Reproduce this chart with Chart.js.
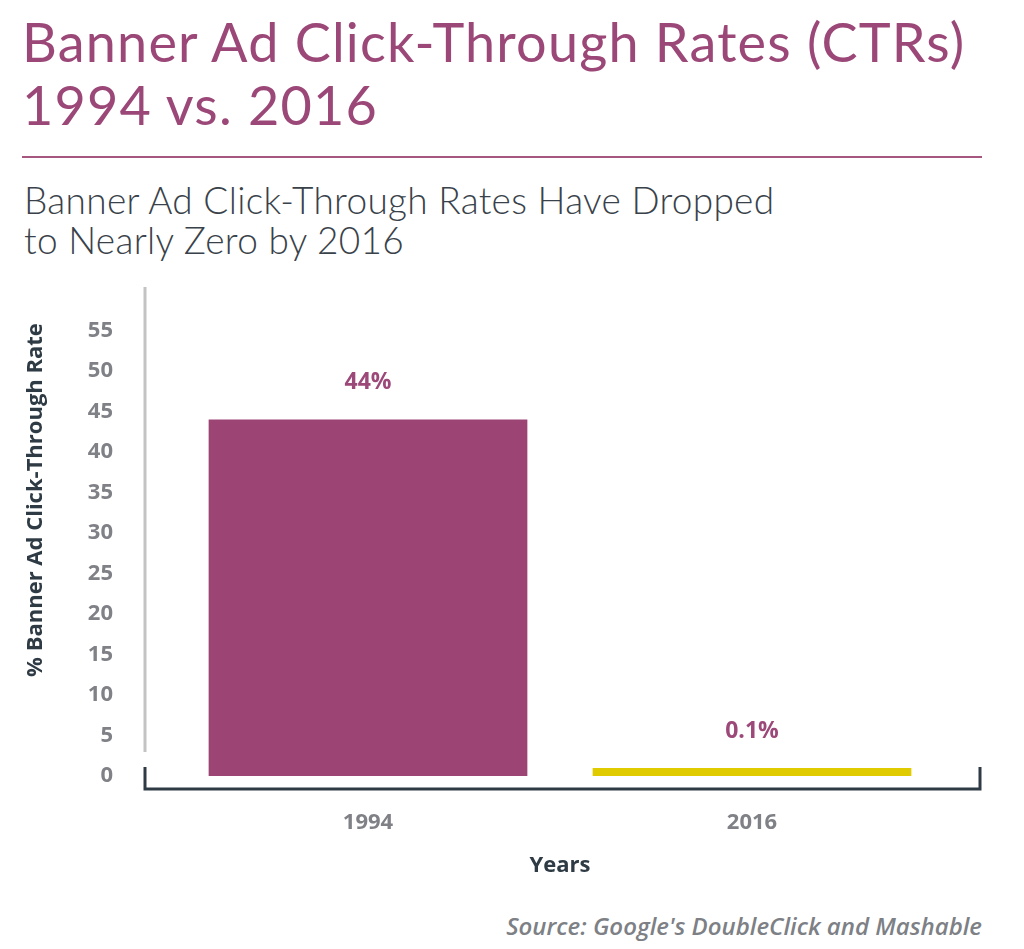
<!DOCTYPE html>
<html>
<head>
<meta charset="utf-8">
<script src="https://cdn.jsdelivr.net/npm/chart.js@4/dist/chart.umd.min.js"></script>
<style>
  html, body { margin: 0; padding: 0; background: #fff; }
  body { width: 1024px; height: 949px; position: relative; overflow: hidden; }
  .title { position: absolute; left: 22px; top: 10px; font-family: Lato, sans-serif; font-size: 54px; line-height: 63px; letter-spacing: 1.2px; color: #9b4878; }
  .rule { position: absolute; left: 22px; top: 156px; width: 960px; height: 2px; background: #a5577f; }
  .subtitle { position: absolute; left: 24px; top: 180px; font-family: Lato, sans-serif; font-weight: 300; font-size: 37px; line-height: 40px; letter-spacing: 0.3px; color: #39424a; }
  .ytitle { position: absolute; left: -167px; top: 487px; width: 400px; line-height: 26px; text-align: center; transform: rotate(-90deg); font-family: "Open Sans", sans-serif; font-weight: bold; font-size: 22px; color: #2e3a44; }
  .source { position: absolute; right: 42px; top: 909px; font-family: "Open Sans", sans-serif; font-style: italic; font-weight: 600; font-size: 24px; color: #7d8085; }
  #wrap { position: absolute; left: 0; top: 270px; width: 1024px; height: 620px; }
</style>
</head>
<body>
<div class="title">Banner Ad Click-Through Rates (CTRs)<br>1994 vs. 2016</div>
<div class="rule"></div>
<div class="subtitle">Banner Ad Click-Through Rates Have Dropped<br>to Nearly Zero by 2016</div>
<div id="wrap"><canvas id="ctrChart" width="1024" height="620"></canvas></div>
<div class="ytitle">% Banner Ad Click-Through Rate</div>
<div class="source">Source: Google's DoubleClick and Mashable</div>
<script>
// chart data
const years = ['1994', '2016'];
const ctrValues = [44, 0.1];
const valueLabels = ['44%', '0.1%'];
const barColors = ['#9c4575', '#e0cb00'];
const yTicks = [0, 5, 10, 15, 20, 25, 30, 35, 40, 45, 50, 55];

const purple = '#9c4878';
const tickGray = '#7f8186';
const dark = '#2e3a44';

// grey y line plus the dark bracket under the bars
const axisFrame = {
  id: 'axisFrame',
  beforeDatasetsDraw(chart) {
    const { ctx, chartArea } = chart;
    const left = chartArea.left - 31;
    const right = chartArea.right + 36;
    const base = chartArea.bottom;
    ctx.save();
    ctx.strokeStyle = '#c3c3c3';
    ctx.lineWidth = 3;
    ctx.beginPath();
    ctx.moveTo(left, chartArea.top - 3);
    ctx.lineTo(left, base - 37);
    ctx.stroke();
    ctx.strokeStyle = dark;
    ctx.beginPath();
    ctx.moveTo(left, base - 22);
    ctx.lineTo(left, base);
    ctx.lineTo(right, base);
    ctx.lineTo(right, base - 22);
    ctx.stroke();
    ctx.restore();
  },
};

// value labels above each bar
const barLabels = {
  id: 'barLabels',
  afterDatasetsDraw(chart) {
    const { ctx } = chart;
    ctx.save();
    ctx.fillStyle = purple;
    ctx.font = 'bold 23px "Open Sans", sans-serif';
    ctx.textAlign = 'center';
    ctx.textBaseline = 'middle';
    chart.getDatasetMeta(0).data.forEach((bar, i) => {
      ctx.fillText(valueLabels[i], bar.x, bar.y - 37);
    });
    ctx.restore();
  },
};

new Chart(document.getElementById('ctrChart'), {
  type: 'bar',
  data: {
    labels: years,
    datasets: [
      {
        data: ctrValues,
        backgroundColor: barColors,
        categoryPercentage: 1,
        barPercentage: 0.83,
        minBarLength: 8,
      },
    ],
  },
  options: {
    responsive: false,
    animation: false,
    layout: { padding: { left: 18, right: 80, top: 20, bottom: 7 } },
    plugins: {
      legend: { display: false },
      tooltip: { enabled: false },
    },
    scales: {
      x: {
        grid: { display: false, drawTicks: false },
        border: { display: false },
        ticks: { color: tickGray, font: { family: '"Open Sans", sans-serif', size: 22, weight: 'bold' }, padding: 21 },
        title: { display: true, text: 'Years', color: dark, font: { family: '"Open Sans", sans-serif', size: 22, weight: 'bold' } },
        afterFit(scale) { scale.height = 94; },
      },
      y: {
        min: -1.6,
        max: 60,
        grid: { display: false, drawTicks: false },
        border: { display: false },
        afterBuildTicks(scale) { scale.ticks = yTicks.map((v) => ({ value: v })); },
        ticks: { color: tickGray, font: { family: '"Open Sans", sans-serif', size: 22, weight: 'bold' }, padding: 63 },
        afterFit(scale) {
          scale.width = 158;
          // the big tick padding should only push labels left, not shrink the plot vertically
          scale.paddingTop = 0;
          scale.paddingBottom = 0;
        },
      },
    },
  },
  plugins: [axisFrame, barLabels],
});
</script>
</body>
</html>
